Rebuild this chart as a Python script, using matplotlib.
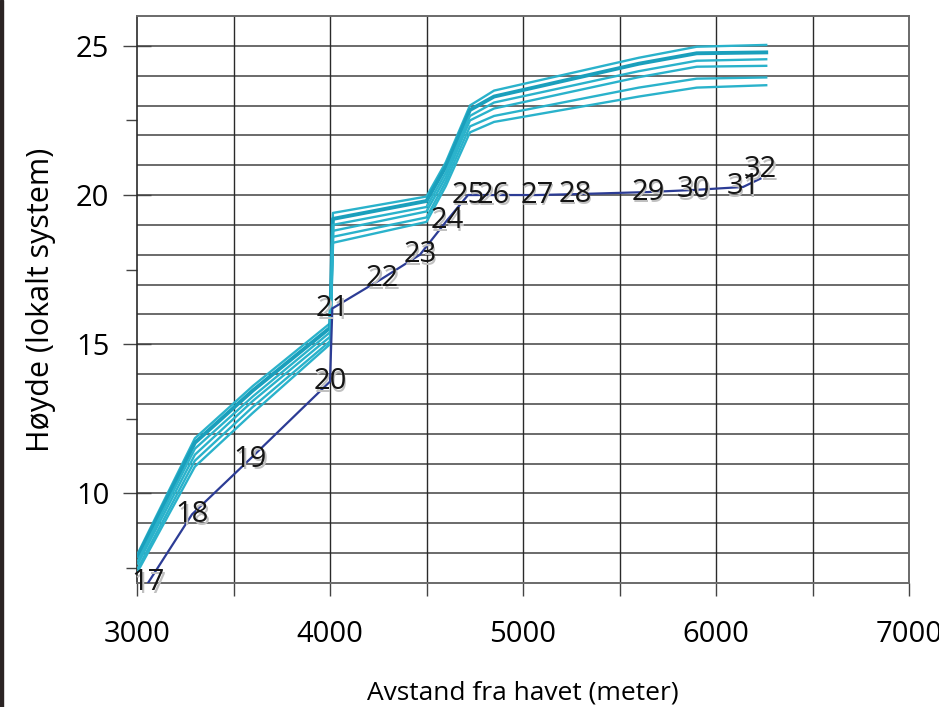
import matplotlib

matplotlib.use("Agg")
import matplotlib.pyplot as plt
from matplotlib.patches import Rectangle
from matplotlib.ticker import MultipleLocator

# Stasjoner langs elva (avstand fra havet, høyde)
station_ids = [17, 18, 19, 20, 21, 22, 23, 24, 25, 26, 27, 28, 29, 30, 31, 32]
station_x = [3057, 3285, 3585, 4000, 4012, 4270, 4466, 4606, 4715, 4845, 5073, 5270, 5648, 5885, 6140, 6230]
station_y = [7.0, 9.3, 11.15, 13.75, 16.2, 17.2, 18.0, 19.15, 20.0, 20.0, 20.0, 20.03, 20.1, 20.17, 20.27, 20.55]

# Vannstandsprofiler
profile_x = [3005, 3300, 3600, 4000, 4015, 4500, 4600, 4725, 4850, 5600, 5900, 6260]
profile_1 = [8.0, 11.85, 13.6, 15.7, 19.4, 19.95, 21.1, 23.0, 23.5, 24.6, 24.97, 25.03]
profile_2 = [7.9, 11.7, 13.45, 15.55, 19.2, 19.8, 20.95, 22.85, 23.3, 24.4, 24.75, 24.78]
profile_3 = [7.75, 11.5, 13.25, 15.4, 19.0, 19.6, 20.75, 22.65, 23.1, 24.15, 24.5, 24.55]
profile_4 = [7.65, 11.3, 13.1, 15.25, 18.8, 19.45, 20.6, 22.5, 22.9, 23.95, 24.3, 24.33]
profile_5 = [7.5, 11.1, 12.9, 15.1, 18.6, 19.25, 20.45, 22.3, 22.65, 23.6, 23.9, 23.94]
profile_6 = [7.4, 10.9, 12.7, 15.0, 18.4, 19.1, 20.3, 22.1, 22.45, 23.3, 23.6, 23.68]

CYAN = "#2ab2cb"
CYAN_DARK = "#1a9fbc"
NAVY = "#2c3c95"

plt.rcParams["font.family"] = ["Open Sans", "DejaVu Sans"]

fig = plt.figure(figsize=(9.39, 7.07), dpi=100)
ax = fig.add_axes([0.1459, 0.1754, 0.8222, 0.802])

# Rutenett
ax.xaxis.set_major_locator(MultipleLocator(1000))
ax.xaxis.set_minor_locator(MultipleLocator(500))
ax.yaxis.set_major_locator(MultipleLocator(5))
ax.yaxis.set_minor_locator(MultipleLocator(2.5))
for yy in range(8, 26):
    ax.axhline(yy, color="#6a6a6a", linewidth=1.4, zorder=1)
for xx in range(3500, 7000, 500):
    ax.axvline(xx, color="#2a2a2a", linewidth=1.0, zorder=1)

profiles = [profile_1, profile_2, profile_3, profile_4, profile_5, profile_6]
for i, prof in enumerate(profiles):
    if i == 1:
        ax.plot(profile_x, prof, color=CYAN_DARK, linewidth=2.8, zorder=3)
    else:
        ax.plot(profile_x, prof, color=CYAN, linewidth=1.7, zorder=3)

ax.plot(station_x, station_y, color=NAVY, linewidth=1.6, zorder=4)

for sid, sx, sy in zip(station_ids, station_x, station_y):
    dy = 0.3 if sid == 32 else 0.0
    # svak skygge under tallene
    ax.annotate(str(sid), (sx, sy + dy), xytext=(1.2, -2.0), textcoords="offset points",
                ha="center", va="center", fontsize=21, color="#c0c0c0", zorder=5)
    ax.text(sx, sy + dy, str(sid), ha="center", va="center", fontsize=21, color="#151515", zorder=6)

ax.set_xlim(3000, 7000)
ax.set_ylim(7, 26)

for side in ["top", "right", "bottom"]:
    ax.spines[side].set_color("#6a6a6a")
    ax.spines[side].set_linewidth(1.4)
ax.spines["left"].set_color("#2a2a2a")
ax.spines["left"].set_linewidth(1.2)

ax.tick_params(axis="x", which="both", direction="out", length=9, width=1, color="#444444",
               labelsize=21, pad=18)
ax.tick_params(axis="y", which="major", direction="inout", length=20, width=1, color="#444444",
               labelsize=21, pad=10)
ax.tick_params(axis="y", which="minor", direction="out", length=8, width=1, color="#444444")

ax.set_xlabel("Avstand fra havet (meter)", fontsize=19, labelpad=22)
ax.set_ylabel("Høyde (lokalt system)", fontsize=22, labelpad=14)

# mørk kant til venstre
fig.patches.append(Rectangle((0, 0), 3 / 939, 1, transform=fig.transFigure, color="#2b2424", zorder=10))

fig.savefig("out.png", dpi=100)
